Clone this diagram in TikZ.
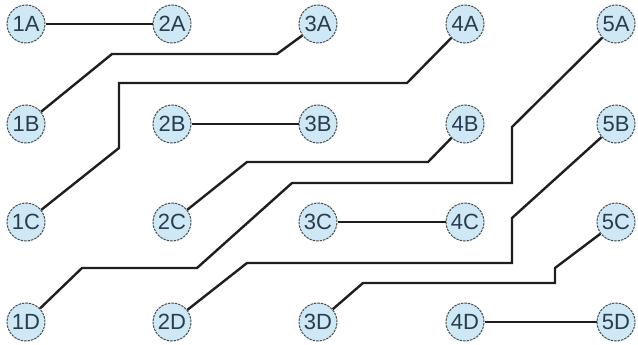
\documentclass[tikz,border=0pt]{standalone}
\usepackage{fontspec}
\setmainfont{Liberation Sans}
\usepackage{xcolor}
\definecolor{padfill}{RGB}{206,233,245}
\definecolor{padedge}{RGB}{70,78,82}
\definecolor{padtext}{RGB}{40,62,78}
\definecolor{wire}{RGB}{30,30,30}

\begin{document}
\begin{tikzpicture}[x=1pt,y=-1pt]
        \tikzset{pad/.style={circle,draw=padedge,fill=padfill,line width=1pt,
                dash pattern=on 2.5pt off 1pt,minimum size=38pt,inner sep=0pt,
                text=padtext,font=\fontsize{22}{22}\selectfont},
            wire/.style={draw=wire,line width=2.4pt,line join=miter}}
        \useasboundingbox (0,0) rectangle (638,345);
        % pads
        \node[pad] (n1A) at (26,24) {1A};
        \node[pad] (n2A) at (172,24) {2A};
        \node[pad] (n3A) at (318,24) {3A};
        \node[pad] (n4A) at (465,24) {4A};
        \node[pad] (n5A) at (616,24) {5A};
        \node[pad] (n1B) at (26,124) {1B};
        \node[pad] (n2B) at (172,124) {2B};
        \node[pad] (n3B) at (318,124) {3B};
        \node[pad] (n4B) at (465,124) {4B};
        \node[pad] (n5B) at (616,124) {5B};
        \node[pad] (n1C) at (26,222) {1C};
        \node[pad] (n2C) at (172,222) {2C};
        \node[pad] (n3C) at (318,222) {3C};
        \node[pad] (n4C) at (465,222) {4C};
        \node[pad] (n5C) at (616,222) {5C};
        \node[pad] (n1D) at (26,322) {1D};
        \node[pad] (n2D) at (172,322) {2D};
        \node[pad] (n3D) at (318,322) {3D};
        \node[pad] (n4D) at (465,322) {4D};
        \node[pad] (n5D) at (616,322) {5D};
        % wires
        \draw[wire] (n1A) -- (n2A);
        \draw[wire] (n2B) -- (n3B);
        \draw[wire] (n3C) -- (n4C);
        \draw[wire] (n4D) -- (n5D);
        \draw[wire] (n3A) -- (277,54) -- (112,54) -- (n1B);
        \draw[wire] (n4A) -- (407,83) -- (119,83) -- (119,148) -- (n1C);
        \draw[wire] (n4B) -- (428,162) -- (247,162) -- (n2C);
        \draw[wire] (n5A) -- (512,127) -- (512,183) -- (292,183) -- (197,268)
            -- (82,268) -- (n1D);
        \draw[wire] (n5B) -- (512,218) -- (512,263) -- (247,263) -- (n2D);
        \draw[wire] (n5C) -- (555,268) -- (555,283) -- (363,283) -- (n3D);
    \end{tikzpicture}
\end{document}
